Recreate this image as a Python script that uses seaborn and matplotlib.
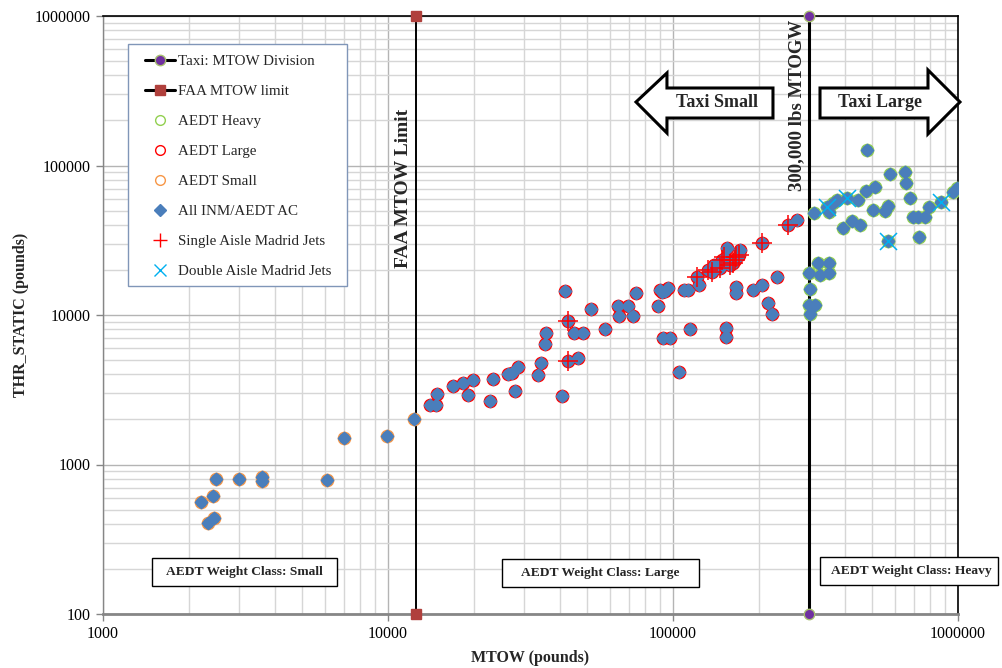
import numpy as np
import pandas as pd
import matplotlib
matplotlib.use("Agg")
import matplotlib.pyplot as plt
from matplotlib.lines import Line2D
from matplotlib.patches import Polygon, Rectangle
from matplotlib.ticker import LogLocator, NullFormatter, FuncFormatter
import seaborn as sns

# ---------------------------------------------------------------- data
# All INM/AEDT aircraft: maximum take-off weight vs static thrust (lbs)
mtow_lbs = [
    2200, 2440, 2340, 2460, 2500, 3000, 3600, 3600, 6100, 7000, 9900, 12300,
    14000, 14700, 14900, 16900, 18300, 19900, 19100, 22800, 23400, 26300,
    27200, 28700, 27900, 33600, 34300, 35600, 35800, 40800, 41800, 42900,
    42900, 46500, 45100, 48200, 51600, 57700, 64300, 64800, 69700, 72600,
    74200, 90000, 96300, 91300, 93800, 88800, 92500, 97600, 105000, 109000,
    113000, 115000, 121000, 123000, 133000, 137000, 139000, 146000, 148000,
    152000, 155000, 158000, 163000, 165000, 170000, 172000, 167000, 167000,
    154000, 154000, 191000, 206000, 206000, 215000, 222000, 232000, 254000,
    273000,
    300000, 302000, 300000, 315000, 302000, 323000, 328000, 354000, 354000,
    312000, 346000, 354000, 365000, 375000, 407000, 396000, 424000, 453000,
    447000, 476000, 512000, 478000, 505000, 555000, 569000, 569000, 577000,
    652000, 657000, 679000, 694000, 726000, 766000, 793000, 870000, 958000,
    995000, 728000,
]
thr_static_lbs = [
    564, 615, 408, 437, 800, 797, 830, 770, 788, 1500, 1550, 2000,
    2500, 2500, 2960, 3370, 3530, 3670, 2920, 2670, 3710, 4010,
    4070, 4510, 3120, 3970, 4750, 6400, 7550, 2890, 14500, 9160,
    4950, 5180, 7550, 7550, 10900, 8100, 11500, 9850, 11500, 9890,
    14000, 14700, 15100, 14300, 14400, 11500, 6990, 6990, 4180, 14700,
    14700, 8060, 17900, 15900, 20000, 19500, 21600, 20500, 23300,
    24000, 28000, 21600, 22200, 23300, 25200, 27200, 15500, 14000,
    8150, 7090, 14700, 15900, 30200, 12000, 10200, 18000, 40000,
    43200,
    19000, 14900, 11700, 11700, 10100, 22200, 18500, 22200, 19000,
    47900, 53000, 49100, 55900, 58800, 60400, 38400, 42700, 40000,
    58800, 67500, 71500, 127000, 50400, 49900, 53600, 31400, 87300,
    90900, 76700, 60400, 45400, 45400, 45400, 53000, 57300, 66800,
    70400, 33100,
]

# Madrid fleet mix
single_aisle_mtow = [42900, 42900, 121000, 133000, 137000, 146000, 148000, 151000,
                     158000, 163000, 165000, 167000, 170000, 206000, 254000]
single_aisle_thr = [9160, 4950, 17900, 20000, 19500, 20500, 23300, 24500,
                    21600, 22200, 23300, 24500, 25200, 30200, 40000]
double_aisle_mtow = [346000, 407000, 569000, 870000]
double_aisle_thr = [53000, 60400, 31400, 57300]

# Reference weights (lbs)
faa_mtow_limit = 12500
taxi_mtow_division = 300000
division_span = [100, 1000000]

x_ticks = [1000, 10000, 100000, 1000000]
y_ticks = [100, 1000, 10000, 100000, 1000000]

# ---------------------------------------------------------------- styling
BLUE = "#4a7ebb"
HEAVY = "#92d050"
LARGE = "#ff0000"
SMALL = "#f79646"
CROSS = "#ff0000"
XCOL = "#00b0f0"
FAA_SQ = "#b0403c"
TAXI_DOT = "#7030a0"
TAXI_EDGE = "#a8c070"
AXIS_GRAY = "#868686"

sns.set_theme(style="white")
plt.rcParams["font.family"] = ["Liberation Serif", "DejaVu Serif"]

df = pd.DataFrame({"mtow": mtow_lbs, "thr": thr_static_lbs})
df["cls"] = np.where(df["mtow"] < faa_mtow_limit, "Small",
                     np.where(df["mtow"] < taxi_mtow_division, "Large", "Heavy"))

fig = plt.figure(figsize=(10.03, 6.68), dpi=100)
ax = fig.add_axes([103 / 1003, 54 / 668, 855 / 1003, 598 / 668])
ax.set_xscale("log")
ax.set_yscale("log")
ax.set_xlim(1000, 1000000)
ax.set_ylim(100, 1000000)

# grid
ax.xaxis.set_minor_locator(LogLocator(base=10, subs=np.arange(2, 10)))
ax.yaxis.set_minor_locator(LogLocator(base=10, subs=np.arange(2, 10)))
ax.xaxis.set_minor_formatter(NullFormatter())
ax.yaxis.set_minor_formatter(NullFormatter())
ax.grid(which="major", color="#b4b4b4", lw=1.0)
ax.grid(which="minor", color="#d6d6d6", lw=1.0)
ax.set_axisbelow(True)

# division lines
ax.plot([taxi_mtow_division] * 2, division_span, color="black", lw=2.2,
        marker="o", ms=7.5, mfc=TAXI_DOT, mec=TAXI_EDGE, mew=1.0,
        zorder=3, clip_on=False)
ax.plot([faa_mtow_limit] * 2, division_span, color="black", lw=1.4,
        marker="s", ms=6.5, mfc=FAA_SQ, mec=FAA_SQ,
        zorder=3, clip_on=False)

# AEDT weight class rings
for cls, col in [("Heavy", HEAVY), ("Large", LARGE), ("Small", SMALL)]:
    sns.scatterplot(data=df[df["cls"] == cls], x="mtow", y="thr", ax=ax,
                    marker="o", s=80, color=BLUE, edgecolor=col,
                    linewidth=0.9, legend=False, zorder=4)

# all aircraft diamonds
sns.scatterplot(data=df, x="mtow", y="thr", ax=ax, marker="D", s=36,
                color=BLUE, edgecolor=BLUE, linewidth=1.4, joinstyle="round",
                legend=False, zorder=5)

# Madrid jets
sns.scatterplot(x=single_aisle_mtow, y=single_aisle_thr, ax=ax, marker="+",
                s=190, color=CROSS, linewidth=1.1, legend=False, zorder=6)
sns.scatterplot(x=double_aisle_mtow, y=double_aisle_thr, ax=ax, marker="x",
                s=150, color=XCOL, linewidth=1.1, legend=False, zorder=6)

# axes, ticks, labels
ax.set_xticks(x_ticks)
ax.set_yticks(y_ticks)
fmt = FuncFormatter(lambda v, p: f"{int(round(v))}")
ax.xaxis.set_major_formatter(fmt)
ax.yaxis.set_major_formatter(fmt)
ax.tick_params(which="major", direction="out", length=5, width=1,
               color=AXIS_GRAY, labelsize=11.5, pad=4, labelcolor="black",
               left=True, bottom=True)
ax.tick_params(which="minor", length=0)
ax.spines["left"].set_color(AXIS_GRAY)
ax.spines["left"].set_linewidth(1.0)
ax.spines["bottom"].set_color(AXIS_GRAY)
ax.spines["bottom"].set_linewidth(2.0)
for side in ("top", "right"):
    ax.spines[side].set_color("black")
    ax.spines[side].set_linewidth(1.2)

ax.set_xlabel("MTOW (pounds)", fontsize=11.5, fontweight="bold")
ax.set_ylabel("THR_STATIC (pounds)", fontsize=11.5, fontweight="bold")
ax.xaxis.set_label_coords(0.5, -0.06)
ax.yaxis.set_label_coords(-0.086, 0.5)

# legend: frame drawn as its own box, entries placed inside it
ax.add_patch(Rectangle((0.0292, 0.5485), 0.2561, 0.4047, transform=ax.transAxes,
                       facecolor="white", edgecolor="#8096b8", lw=1.0,
                       zorder=9))
handles = [
    Line2D([], [], color="black", lw=2.2, marker="o", ms=7.5, mfc=TAXI_DOT,
           mec=TAXI_EDGE),
    Line2D([], [], color="black", lw=2.2, marker="s", ms=7, mfc=FAA_SQ,
           mec=FAA_SQ),
    Line2D([], [], ls="none", marker="o", ms=7, mfc="none", mec=HEAVY, mew=1.0),
    Line2D([], [], ls="none", marker="o", ms=7, mfc="none", mec=LARGE, mew=1.0),
    Line2D([], [], ls="none", marker="o", ms=7, mfc="none", mec=SMALL, mew=1.0),
    Line2D([], [], ls="none", marker="D", ms=6, mfc=BLUE, mec=BLUE),
    Line2D([], [], ls="none", marker="+", ms=10, color=CROSS, mew=1.0),
    Line2D([], [], ls="none", marker="x", ms=8, color=XCOL, mew=1.0),
]
labels = ["Taxi: MTOW Division", "FAA MTOW limit", "AEDT Heavy", "AEDT Large",
          "AEDT Small", "All INM/AEDT AC", "Single Aisle Madrid Jets",
          "Double Aisle Madrid Jets"]
leg = ax.legend(handles, labels, loc="upper left",
                bbox_to_anchor=(0.0491, 0.9348), borderaxespad=0,
                frameon=False, prop={"size": 10.8},
                handlelength=2.0, handletextpad=0.2, labelspacing=1.1,
                borderpad=0)
leg.set_zorder(10)

# vertical annotations along the division lines
ax.text(0.352, 0.712, "FAA MTOW Limit", transform=ax.transAxes, rotation=90,
        ha="center", va="center", fontsize=14, fontweight="bold", zorder=8)
ax.text(0.8117, 0.851, "300,000 lbs MTOGW", transform=ax.transAxes,
        rotation=90, ha="center", va="center", fontsize=13.5,
        fontweight="bold", zorder=8)

# block arrows
small_arrow = [(0.6234, 0.8562), (0.6596, 0.9047), (0.6596, 0.8796),
               (0.7836, 0.8796), (0.7836, 0.8294), (0.6596, 0.8294),
               (0.6596, 0.8043)]
large_arrow = [(1.0023, 0.8562), (0.9649, 0.9097), (0.9649, 0.8796),
               (0.8386, 0.8796), (0.8386, 0.8294), (0.9649, 0.8294),
               (0.9649, 0.8027)]
for pts in (small_arrow, large_arrow):
    ax.add_patch(Polygon(pts, closed=True, transform=ax.transAxes,
                         facecolor="white", edgecolor="black", lw=2.2,
                         joinstyle="miter", clip_on=False, zorder=8))
ax.text(0.7178, 0.855, "Taxi Small", transform=ax.transAxes, ha="center",
        va="center", fontsize=13, fontweight="bold", zorder=9)
ax.text(0.9088, 0.855, "Taxi Large", transform=ax.transAxes, ha="center",
        va="center", fontsize=13, fontweight="bold", zorder=9)

# weight-class boxes
class_boxes = [
    ("AEDT Weight Class: Small", (0.0568, 0.0473, 0.2163, 0.0458), (0.1649, 0.0702)),
    ("AEDT Weight Class: Large", (0.4667, 0.0457, 0.2304, 0.0458), (0.5813, 0.0686)),
    ("AEDT Weight Class: Heavy", (0.8386, 0.0480, 0.2082, 0.0468), (0.9458, 0.0714)),
]
for txt, (bx, by, bw, bh), (tx, ty) in class_boxes:
    ax.add_patch(Rectangle((bx, by), bw, bh, transform=ax.transAxes,
                           facecolor="white", edgecolor="black", lw=1.0,
                           clip_on=False, zorder=8))
    ax.text(tx, ty, txt, transform=ax.transAxes, ha="center", va="center",
            fontsize=9.7, fontweight="bold", zorder=9)

fig.savefig("out.png", dpi=100)
